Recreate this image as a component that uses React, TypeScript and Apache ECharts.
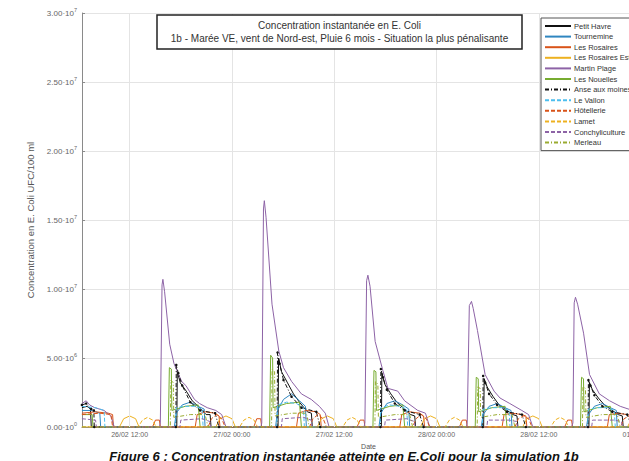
import React, { useEffect, useRef } from "react";
import * as echarts from "echarts";

// time in hours since 26/02 00:00, values in millions (E. Coli / 100 ml)
const xTicks = [12, 24, 36, 48, 60, 72];
const seriesNames = [
  "Petit Havre",
  "Tournemine",
  "Les Rosaires",
  "Les Rosaires Est",
  "Martin Plage",
  "Les Nouelles",
  "Anse aux moines",
  "Le Vallon",
  "Hôtellerie",
  "Lamet",
  "Conchyliculture",
  "Merleau",
];

const petitHavre: [number, number][] = [[6.4,1.4],[7.0,1.5],[7.4,1.3],[7.5,0],[17.53,0],[17.59,4.0],[17.94,3.2],[18.64,2.6],[19.34,1.9],[20.04,1.5],[20.97,0.9],[21.44,0.9],[21.55,0],[29.41,0],[29.47,5.0],[29.82,4.0],[30.52,3.2],[31.22,2.4],[31.92,1.8],[32.85,1.1],[33.32,1.0],[33.43,0],[41.53,0],[41.59,3.9],[41.94,3.1],[42.64,2.4],[43.34,1.8],[44.04,1.4],[44.97,0.9],[45.44,0.8],[45.55,0],[53.53,0],[53.59,3.5],[53.94,2.9],[54.64,2.2],[55.34,1.6],[56.04,1.3],[56.97,0.9],[57.44,0.8],[57.55,0],[65.88,0],[65.94,3.2],[66.29,2.7],[66.99,2.1],[67.69,1.6],[68.39,1.3],[69.32,0.9],[69.79,0.8],[69.90,0],[73.7,0]];
const tournemine: [number, number][] = [[6.4,1.2],[7.5,1.2],[8.5,1.0],[8.6,0],[17.24,0],[17.47,1.0],[18.17,1.6],[19.11,1.8],[20.04,1.5],[20.74,1.3],[20.85,0],[29.12,0],[29.35,1.2],[30.05,2.0],[30.99,2.4],[31.92,1.9],[32.62,1.5],[32.73,0],[41.24,0],[41.47,1.0],[42.17,1.7],[43.11,1.9],[44.04,1.6],[44.74,1.3],[44.85,0],[53.24,0],[53.47,0.9],[54.17,1.5],[55.11,1.7],[56.04,1.4],[56.74,1.2],[56.85,0],[65.59,0],[65.82,0.9],[66.52,1.5],[67.46,1.7],[68.39,1.4],[69.09,1.2],[69.20,0],[73.7,0]];
const lesRosaires: [number, number][] = [[6.4,1.0],[8.0,1.1],[9.5,1.0],[10.0,0.9],[10.1,0],[14.68,0],[15.03,0.5],[15.49,0.5],[15.61,0],[19.69,0],[19.92,0.9],[20.85,1.1],[22.02,1.0],[22.48,0.8],[22.60,0],[26.56,0],[26.91,0.6],[27.37,0.6],[27.49,0],[31.57,0],[31.80,1.0],[32.73,1.2],[33.90,1.1],[34.36,0.9],[34.48,0],[38.68,0],[39.03,0.5],[39.49,0.5],[39.61,0],[43.69,0],[43.92,0.9],[44.85,1.1],[46.02,1.0],[46.48,0.8],[46.60,0],[50.68,0],[51.03,0.5],[51.49,0.5],[51.61,0],[55.69,0],[55.92,0.9],[56.85,1.0],[58.02,0.9],[58.48,0.8],[58.60,0],[63.03,0],[63.38,0.5],[63.84,0.5],[63.96,0],[68.04,0],[68.27,0.9],[69.20,1.0],[70.37,0.9],[70.83,0.8],[70.95,0],[73.7,0]];
const lesRosairesEst: [number, number][] = [[6.4,0],[10.8,0],[11.3,0.6],[12.0,0.8],[12.7,0.6],[13.1,0],[22.1,0],[22.6,0.6],[23.3,0.8],[24.0,0.6],[24.4,0],[34.0,0],[34.5,0.6],[35.2,0.8],[35.9,0.6],[36.3,0],[46.1,0],[46.6,0.6],[47.3,0.8],[48.0,0.6],[48.4,0],[58.1,0],[58.6,0.6],[59.3,0.8],[60.0,0.6],[60.4,0],[70.4,0],[70.9,0.6],[71.6,0.8],[72.3,0.6],[72.7,0],[73.7,0]];
const martinPlage: [number, number][] = [[6.4,1.7],[6.9,1.9],[7.3,1.6],[7.9,1.4],[9.0,1.2],[9.8,0.8],[10.2,0],[15.5,0],[15.6,0.3],[15.8,10.3],[15.9,10.7],[16.1,9.8],[16.7,6.0],[17.2,4.6],[18.1,3.3],[18.6,3.0],[19.0,2.6],[19.6,2.0],[20.2,1.7],[21.1,1.4],[22.1,1.2],[22.8,0.9],[23.3,0],[27.4,0],[27.5,0.3],[27.7,15.8],[27.8,16.4],[28.0,15.2],[28.7,8.9],[29.5,5.5],[30.05,4.3],[31.0,3.3],[32.15,2.4],[33.3,2.0],[34.25,1.5],[34.95,1.0],[35.4,0],[39.5,0],[39.6,0.3],[39.8,10.6],[39.95,11.0],[40.2,10.2],[40.8,6.2],[41.7,4.1],[42.3,2.8],[43.45,2.6],[44.25,1.9],[45.8,1.2],[46.7,1.0],[47.2,0],[51.5,0],[51.6,0.3],[51.85,8.8],[52.1,9.1],[52.3,8.6],[52.8,7.0],[53.7,3.8],[54.75,2.6],[55.45,2.1],[56.6,1.7],[58.0,1.2],[58.8,0.9],[59.3,0],[63.85,0],[64.0,0.3],[64.15,9.0],[64.3,9.4],[64.55,8.9],[65.25,6.8],[65.95,3.8],[67.1,2.4],[68.3,1.9],[69.55,1.5],[71.0,1.2],[72.0,1.0],[73.7,0.8]];
const lesNouelles: [number, number][] = [[6.4,0.9],[7.6,0.9],[7.7,0],[16.54,0],[16.66,4.3],[16.89,4.2],[16.95,1.2],[18.52,1.5],[20.04,1.6],[20.27,0],[28.42,0],[28.54,5.2],[28.77,5.0],[28.83,1.4],[30.40,1.7],[31.92,1.8],[32.15,0],[40.54,0],[40.66,4.1],[40.89,4.0],[40.95,1.2],[42.52,1.5],[44.04,1.6],[44.27,0],[52.54,0],[52.66,3.6],[52.89,3.5],[52.95,1.1],[54.52,1.4],[56.04,1.5],[56.27,0],[64.89,0],[65.01,3.6],[65.24,3.5],[65.30,1.1],[66.87,1.4],[68.39,1.5],[68.62,0],[73.7,0]];
const anseAuxMoines: [number, number][] = [[6.4,1.6],[6.9,1.7],[7.5,1.3],[7.8,1.2],[7.85,0],[17.42,0],[17.47,4.5],[17.71,3.9],[18.17,3.0],[19.11,1.8],[20.27,1.2],[22.02,1.0],[22.48,0],[29.30,0],[29.35,5.4],[29.59,4.6],[30.05,3.4],[30.99,2.2],[32.15,1.4],[33.90,1.1],[34.36,0],[41.42,0],[41.47,4.2],[41.71,3.6],[42.17,2.7],[43.11,1.7],[44.27,1.2],[46.02,0.9],[46.48,0],[53.42,0],[53.47,3.7],[53.71,3.2],[54.17,2.4],[55.11,1.6],[56.27,1.1],[58.02,0.9],[58.48,0],[65.77,0],[65.82,3.4],[66.06,3.0],[66.52,2.3],[67.46,1.5],[68.62,1.1],[70.37,0.9],[70.9,0],[73.7,0]];
const leVallon: [number, number][] = [[6.4,1.5],[8.0,1.4],[9.0,1.2],[9.1,0],[17.36,0],[17.47,1.4],[18.52,1.5],[19.69,1.5],[20.50,1.3],[20.62,0],[29.24,0],[29.35,1.6],[30.40,1.8],[31.57,1.7],[32.38,1.4],[32.50,0],[41.36,0],[41.47,1.4],[42.52,1.6],[43.69,1.5],[44.50,1.3],[44.62,0],[53.36,0],[53.47,1.3],[54.52,1.4],[55.69,1.4],[56.50,1.2],[56.62,0],[65.71,0],[65.82,1.3],[66.87,1.4],[68.04,1.4],[68.85,1.2],[68.97,0],[73.7,0]];
const hotellerie: [number, number][] = [[6.4,0.9],[8.5,1.0],[9.8,0.9],[10.0,0],[21.2,0],[21.6,0.6],[22.2,0.9],[22.8,0.6],[23.2,0],[33.1,0],[33.5,0.6],[34.1,0.9],[34.7,0.6],[35.1,0],[45.2,0],[45.6,0.6],[46.2,0.9],[46.8,0.6],[47.2,0],[57.2,0],[57.6,0.6],[58.2,0.8],[58.8,0.6],[59.2,0],[69.6,0],[70.0,0.6],[70.6,0.8],[71.2,0.6],[71.6,0],[73.7,0]];
const lamet: [number, number][] = [[6.4,0],[13.0,0],[13.5,0.5],[14.1,0.7],[14.7,0.5],[15.1,0],[24.9,0],[25.4,0.5],[26.0,0.7],[26.6,0.5],[27.0,0],[37.0,0],[37.5,0.5],[38.1,0.7],[38.7,0.5],[39.1,0],[49.0,0],[49.5,0.5],[50.1,0.7],[50.7,0.5],[51.1,0],[61.4,0],[61.9,0.5],[62.5,0.7],[63.1,0.5],[63.5,0],[73.7,0]];
const conchyliculture: [number, number][] = [[6.4,0.6],[8.0,0.5],[8.1,0],[17.9,0],[18.0,0.5],[20.5,0.6],[21.4,0.4],[21.5,0],[29.8,0],[29.9,0.6],[32.4,0.7],[33.3,0.5],[33.4,0],[41.9,0],[42.0,0.5],[44.5,0.6],[45.4,0.4],[45.5,0],[53.9,0],[54.0,0.5],[56.5,0.5],[57.4,0.4],[57.5,0],[66.2,0],[66.3,0.5],[68.8,0.5],[69.7,0.4],[69.8,0],[73.7,0]];
const merleau: [number, number][] = [[6.4,0],[16.77,0],[16.83,3.4],[17.12,3.2],[17.18,0.7],[19.11,0.9],[20.85,0.9],[21.20,0],[28.65,0],[28.71,4.2],[29.00,4.0],[29.06,0.8],[30.99,1.0],[32.73,1.0],[33.08,0],[40.77,0],[40.83,3.3],[41.12,3.1],[41.18,0.7],[43.11,0.9],[44.85,0.9],[45.20,0],[52.77,0],[52.83,2.9],[53.12,2.8],[53.18,0.7],[55.11,0.9],[56.85,0.9],[57.20,0],[65.12,0],[65.18,2.9],[65.47,2.8],[65.53,0.7],[67.46,0.9],[69.20,0.9],[69.55,0],[73.7,0]];

const seriesData = [
  petitHavre, tournemine, lesRosaires, lesRosairesEst, martinPlage, lesNouelles,
  anseAuxMoines, leVallon, hotellerie, lamet, conchyliculture, merleau,
];
const colors = [
  "#111111", "#2f86c0", "#d95319", "#edb120", "#8d63a6", "#77ac30",
  "#111111", "#4dbeee", "#d95319", "#edb120", "#8d63a6", "#9aab30",
];
const dashTypes: any[] = [
  "solid", "solid", "solid", "solid", "solid", "solid",
  [4, 2, 1, 2], [4, 2], [4, 2], [4, 2], [4, 2], [4, 2, 1, 2],
];

const FONT = "Liberation Sans, Arial, sans-serif";

function fmtX(h: number): string {
  let day = 26 + Math.floor(h / 24);
  let month = 2;
  if (day > 28) { day -= 28; month = 3; }
  const hh = Math.round(h % 24);
  const p = (n: number) => (n < 10 ? "0" + n : "" + n);
  return `${p(day)}/${p(month)} ${p(hh)}:00`;
}

function fmtY(v: number): string {
  if (v === 0) return "{m|0.00·10}{e|0}";
  const abs = v * 1e6;
  const e = Math.floor(Math.log10(abs) + 1e-9);
  const m = (abs / Math.pow(10, e)).toFixed(2);
  return `{m|${m}·10}{e|${e}}`;
}

export default function App() {
  const ref = useRef<HTMLDivElement>(null);
  useEffect(() => {
    if (!ref.current) return;
    const chart = echarts.init(ref.current, null, { renderer: "svg" });
    const series: any[] = seriesNames.map((name, i) => ({
      name,
      type: "line",
      data: seriesData[i],
      symbol: i === 6 ? "circle" : "none",
      symbolSize: 2.5,
      showSymbol: i === 6,
      itemStyle: { color: colors[i] },
      lineStyle: { color: colors[i], width: 1, type: dashTypes[i] },
      z: 3,
    }));
    series.unshift({
      name: "grid",
      type: "line",
      data: [[6.41, 0]],
      symbol: "none",
      lineStyle: { width: 0 },
      z: 1,
      silent: true,
      markLine: {
        silent: true,
        symbol: "none",
        label: { show: false },
        lineStyle: { color: "#e4e4e4", width: 1, type: "solid" },
        data: xTicks.map((t) => ({ xAxis: t })),
      },
    });
    chart.setOption({
      animation: false,
      backgroundColor: "#ffffff",
      textStyle: { fontFamily: FONT },
      grid: { left: 82, top: 13, bottom: 34, right: 10, containLabel: false },
      xAxis: {
        type: "value",
        min: 6.41,
        max: 73.63,
        name: "Date",
        nameLocation: "middle",
        nameGap: 15,
        nameTextStyle: { fontSize: 7, color: "#555", fontFamily: FONT },
        axisLine: { show: true, lineStyle: { color: "#8a8a8a", width: 1 } },
        axisTick: { show: true, inside: true, length: 3, customValues: xTicks, lineStyle: { color: "#8a8a8a" } },
        axisLabel: { customValues: xTicks, formatter: fmtX, fontSize: 7, color: "#666", margin: 4, fontFamily: FONT },
        splitLine: { show: false },
      },
      yAxis: {
        type: "value",
        min: 0,
        max: 30,
        interval: 5,
        name: "Concentration en E. Coli UFC/100 ml",
        nameLocation: "middle",
        nameGap: 45,
        nameTextStyle: { fontSize: 9.5, color: "#555", fontFamily: FONT },
        axisLine: { show: true, lineStyle: { color: "#8a8a8a", width: 1 } },
        axisTick: { show: true, inside: true, length: 3, lineStyle: { color: "#8a8a8a" } },
        axisLabel: {
          formatter: fmtY,
          margin: 5,
          color: "#666",
          rich: {
            m: { fontSize: 8, color: "#666", fontFamily: FONT },
            e: { fontSize: 5.5, color: "#666", fontFamily: FONT, padding: [0, 0, 6, 0] },
          },
        },
        splitLine: { show: true, lineStyle: { color: "#e4e4e4", width: 1 } },
      },
      legend: {
        data: seriesNames,
        orient: "vertical",
        left: 541,
        top: 18,
        itemWidth: 26,
        itemHeight: 8,
        itemGap: 2.6,
        padding: [4, 6, 4, 3],
        backgroundColor: "#ffffff",
        borderColor: "#555555",
        borderWidth: 1,
        borderRadius: 0,
        selectedMode: false,
        itemStyle: { opacity: 0 },
        textStyle: { fontSize: 7.5, color: "#333", fontFamily: FONT, padding: [0, 0, 0, -2] },
      },
      graphic: [
        {
          type: "rect",
          shape: { x: 157, y: 15, width: 365, height: 34 },
          style: { fill: "#ffffff", stroke: "#222222", lineWidth: 1.5 },
          z: 10,
        },
        {
          type: "text",
          x: 339.5,
          y: 25.5,
          z: 11,
          style: {
            text: "Concentration instantanée en E. Coli",
            fontSize: 10,
            fill: "#333",
            fontFamily: FONT,
            align: "center",
            verticalAlign: "middle",
          },
        },
        {
          type: "text",
          x: 339.5,
          y: 38,
          z: 11,
          style: {
            text: "1b - Marée VE, vent de Nord-est, Pluie 6 mois - Situation la plus pénalisante",
            fontSize: 10,
            fill: "#333",
            fontFamily: FONT,
            align: "center",
            verticalAlign: "middle",
          },
        },
        {
          type: "text",
          x: 344,
          y: 450,
          z: 11,
          style: {
            text: "Figure 6 : Concentration instantanée atteinte en E.Coli pour la simulation 1b",
            fontSize: 13,
            fontWeight: "bold",
            fontStyle: "italic",
            fill: "#111",
            fontFamily: FONT,
            align: "center",
            verticalAlign: "top",
          },
        },
      ],
      series,
    });
    return () => chart.dispose();
  }, []);
  return (
    <div style={{ position: "absolute", left: 0, top: 0, width: 629, height: 461, overflow: "hidden" }}>
      <div ref={ref} style={{ width: 665, height: 461 }} />
    </div>
  );
}
